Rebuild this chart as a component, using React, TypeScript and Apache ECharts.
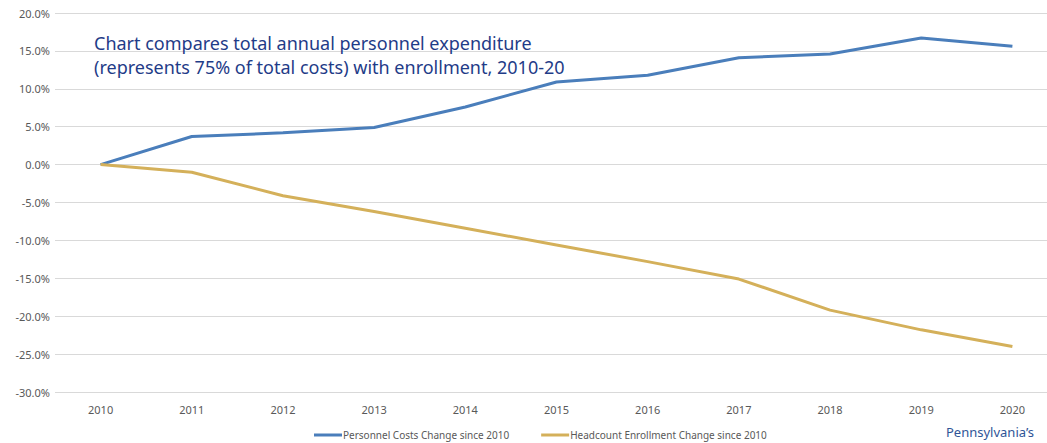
import React, { useEffect, useRef } from "react";
import * as echarts from "echarts";

const years = ["2010", "2011", "2012", "2013", "2014", "2015", "2016", "2017", "2018", "2019", "2020"];
const personnelCosts = [0, 3.7, 4.2, 4.9, 7.6, 10.9, 11.8, 14.1, 14.6, 16.7, 15.6];
const headcountEnrollment = [0, -1.0, -4.1, -6.2, -8.4, -10.6, -12.8, -15.1, -19.2, -21.8, -24.0];
const seriesNames = ["Personnel Costs Change since 2010", "Headcount Enrollment Change since 2010"];
const titleText = "Chart compares total annual personnel expenditure\n(represents 75% of total costs) with enrollment, 2010-20";
const sourceText = "Pennsylvania\u2019s";

export default function App() {
  const ref = useRef<HTMLDivElement>(null);
  useEffect(() => {
    if (!ref.current) return;
    const chart = echarts.init(ref.current, undefined, { renderer: "svg" });
    const font = "'Noto Sans', sans-serif";
    chart.setOption({
      animation: false,
      backgroundColor: "#ffffff",
      textStyle: { fontFamily: font },
      grid: { left: 55, right: 0, top: 13, bottom: 51 },
      title: {
        text: titleText,
        left: 94,
        top: 31,
        padding: 0,
        textStyle: { fontFamily: font, fontSize: 18, fontWeight: "normal", color: "#1f3c88", lineHeight: 24 },
      },
      legend: {
        left: 309,
        top: 425,
        itemWidth: 28,
        itemHeight: 3,
        itemGap: 32,
        icon: "rect",
        textStyle: { fontFamily: font, fontSize: 10, color: "#595959", padding: [0, 0, 0, -4] },
        data: seriesNames,
      },
      xAxis: {
        type: "category",
        data: years,
        boundaryGap: true,
        axisLine: { show: false },
        axisTick: { show: false },
        axisLabel: { fontFamily: font, fontSize: 11, color: "#595959", margin: 12 },
      },
      yAxis: {
        type: "value",
        min: -30,
        max: 20,
        interval: 5,
        axisLine: { show: false },
        axisTick: { show: false },
        axisLabel: {
          fontFamily: font,
          fontSize: 11,
          color: "#595959",
          margin: 5,
          formatter: (v: number) => v.toFixed(1) + "%",
        },
        splitLine: { lineStyle: { color: "#d9d9d9", width: 1 } },
      },
      graphic: [
        {
          type: "text",
          left: 946,
          top: 425,
          style: { text: sourceText, fontFamily: font, fontSize: 13, fill: "#2f5597" },
        },
      ],
      series: [
        {
          name: seriesNames[0],
          type: "line",
          data: personnelCosts,
          symbol: "none",
          lineStyle: { color: "#4a7ebb", width: 3 },
          itemStyle: { color: "#4a7ebb" },
        },
        {
          name: seriesNames[1],
          type: "line",
          data: headcountEnrollment,
          symbol: "none",
          lineStyle: { color: "#d4b05a", width: 3 },
          itemStyle: { color: "#d4b05a" },
        },
      ],
    });
    return () => chart.dispose();
  }, []);
  return <div ref={ref} style={{ position: "fixed", left: 0, top: 0, width: 1058, height: 443 }} />;
}
